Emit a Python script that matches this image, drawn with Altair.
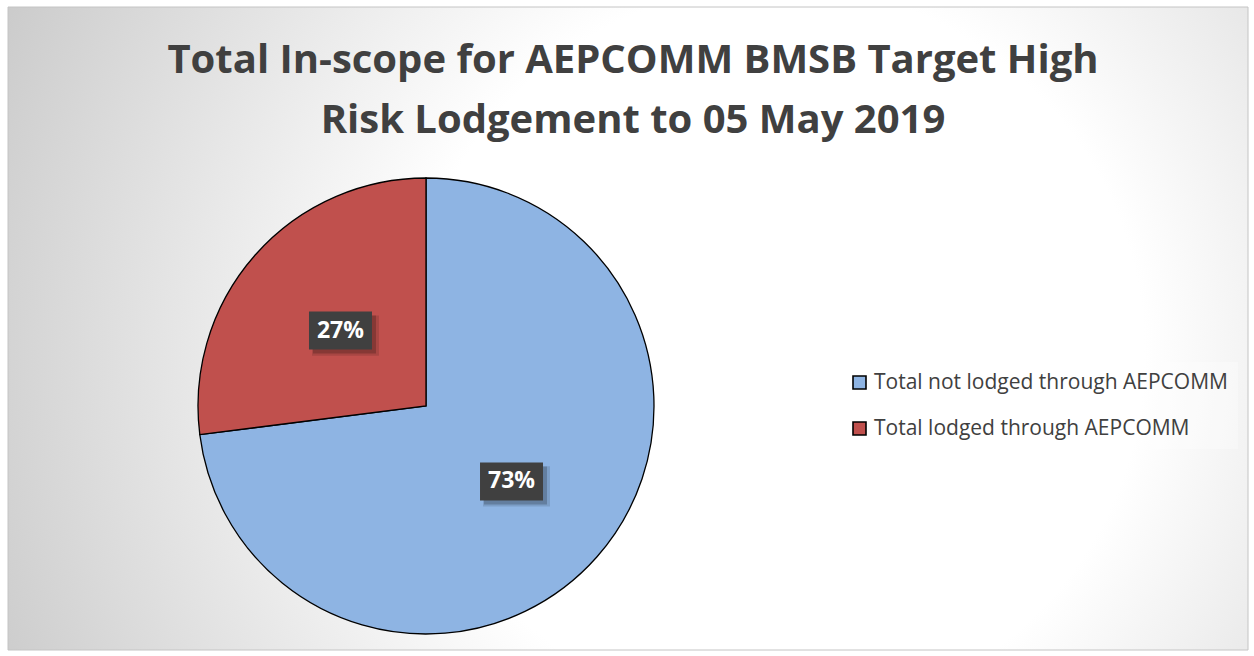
import altair as alt
import pandas as pd

# ---- data ----
categories = ["Total not lodged through AEPCOMM", "Total lodged through AEPCOMM"]
shares = [73, 27]
labels = ["73%", "27%"]
colors = ["#8EB4E3", "#C0504D"]
title_lines = ["Total In-scope for AEPCOMM BMSB Target High", "Risk Lodgement to 05 May 2019"]

df = pd.DataFrame({
    "category": categories,
    "share": shares,
    "label": labels,
    "idx": list(range(len(categories))),
})
one = pd.DataFrame({"k": [0]})

W, H = 1240, 643
CX, CY, R = 418, 399, 228
FONT = "Open Sans"
BW, BH = 63, 38
BOX = "M-1,{a}H1V{b}H-1Z".format(a=-BH / BW, b=BH / BW)

bg = alt.Chart(one).mark_rect(
    fill={
        "gradient": "radial",
        "x1": 0.62, "y1": 0.52, "r1": 0,
        "x2": 0.62, "y2": 0.52, "r2": 0.78,
        "stops": [
            {"offset": 0, "color": "#FFFFFF"},
            {"offset": 0.38, "color": "#FFFFFF"},
            {"offset": 1, "color": "#BEBEBE"},
        ],
    },
    stroke="#C4C4C4",
    strokeWidth=1,
).encode(x=alt.value(0), x2=alt.value(W), y=alt.value(0), y2=alt.value(H))

pie = alt.Chart(df).mark_arc(outerRadius=R, stroke="#000000", strokeWidth=1.3).encode(
    theta=alt.Theta("share:Q", stack=True),
    color=alt.Color(
        "category:N",
        scale=alt.Scale(domain=categories, range=colors),
        sort=categories,
        legend=alt.Legend(
            orient="none", legendX=831, legendY=355, title=None,
            symbolType="square", symbolSize=169, symbolStrokeColor="#000000",
            symbolStrokeWidth=1.6, symbolOpacity=1,
            labelFont=FONT, labelFontSize=21, labelColor="#404040",
            labelLimit=0, labelOffset=4, rowPadding=24, padding=10,
            fillColor="rgba(255,255,255,0.3)",
        ),
    ),
    order=alt.Order("idx:Q"),
    x=alt.value(CX),
    y=alt.value(CY),
)

pos = alt.Chart(df).transform_window(
    cum="sum(share)", sort=[alt.SortField("idx")], frame=[None, 0]
).transform_joinaggregate(total="sum(share)").transform_calculate(
    mid="(datum.cum - datum.share / 2) / datum.total * 2 * PI",
    px="0.5 * sin(datum.mid)",
    py="0.5 * cos(datum.mid)",
)
xenc = alt.X("px:Q", scale=alt.Scale(domain=[-1, 1], range=[CX - R, CX + R]), axis=None)
yenc = alt.Y("py:Q", scale=alt.Scale(domain=[-1, 1], range=[CY + R, CY - R]), axis=None)

shadow1 = pos.mark_point(shape=BOX, size=(BW + 4) ** 2, filled=True, fill="#000000",
                         fillOpacity=0.12, strokeWidth=0, xOffset=5, yOffset=5).encode(x=xenc, y=yenc)
shadow2 = pos.mark_point(shape=BOX, size=BW ** 2, filled=True, fill="#000000",
                         fillOpacity=0.2, strokeWidth=0, xOffset=4, yOffset=4).encode(x=xenc, y=yenc)
box = pos.mark_point(shape=BOX, size=BW ** 2, filled=True, fill="#404040",
                     fillOpacity=1, strokeWidth=0).encode(x=xenc, y=yenc)
txt = pos.mark_text(font=FONT, fontWeight="bold", fontSize=23, color="#FFFFFF",
                    align="center", baseline="middle").encode(x=xenc, y=yenc, text="label:N")

title = alt.Chart(one).mark_text(
    text=title_lines, font=FONT, fontWeight="bold", fontSize=40, color="#404040",
    align="center", baseline="alphabetic", lineHeight=60,
).encode(x=alt.value(625), y=alt.value(66))

chart = alt.layer(bg, pie, shadow1, shadow2, box, txt, title).properties(
    width=W, height=H,
    padding={"left": 8, "top": 7, "right": 6, "bottom": 6},
    autosize=alt.AutoSizeParams(type="none"),
    background="white",
).configure_view(stroke=None)

chart.save("out.html", embed_options={"renderer": "svg", "actions": False})
